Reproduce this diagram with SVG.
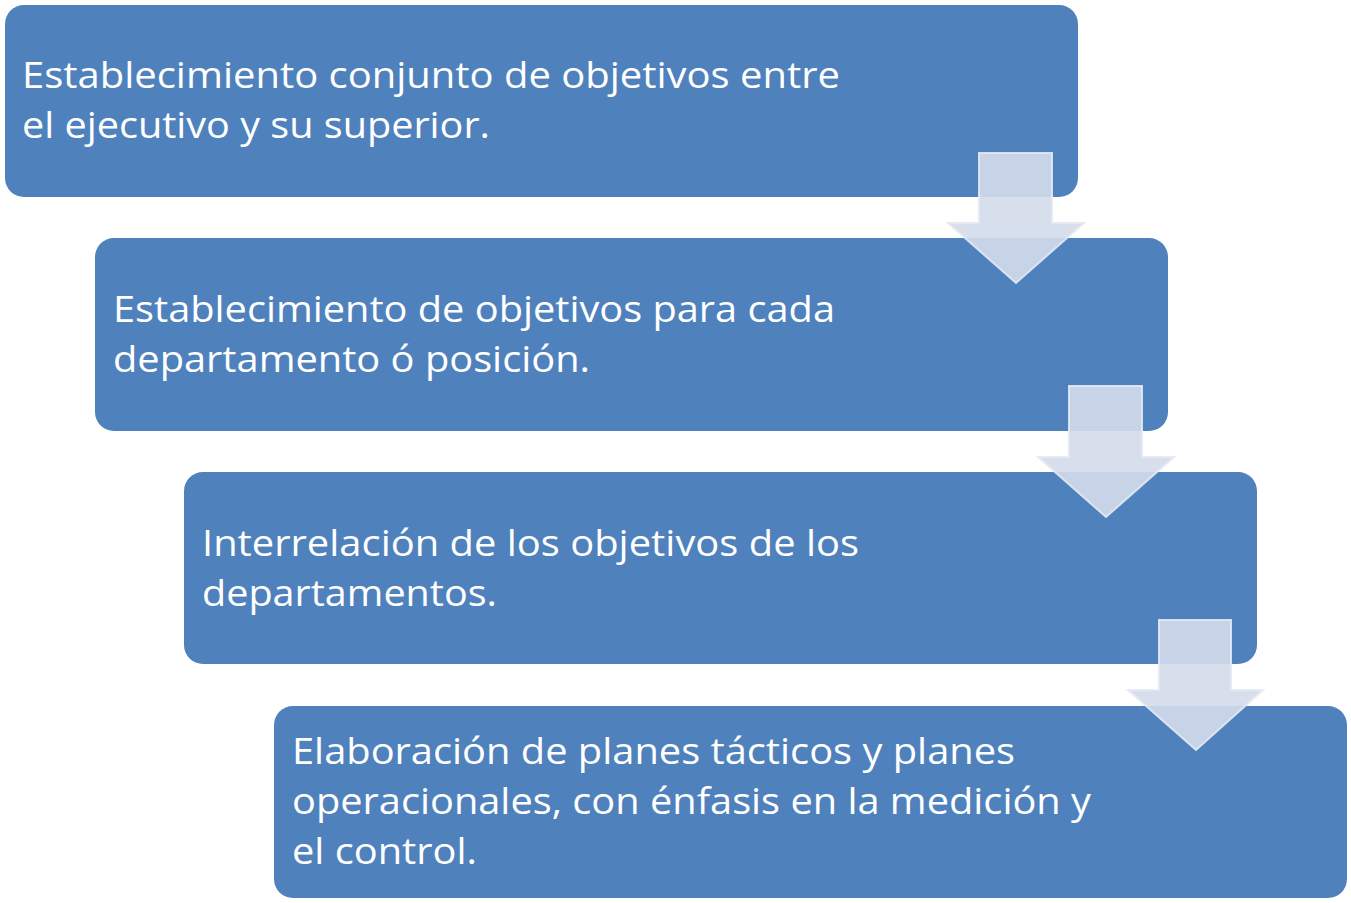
<svg xmlns="http://www.w3.org/2000/svg" width="1351" height="903" viewBox="0 0 1351 903">
<style>
.box{fill:#4F81BD;}
.t{font-family:"Open Sans","Noto Sans","Liberation Sans",sans-serif;font-size:37px;fill:#FFFFFF;}
.arr{fill:#D4DBEA;fill-opacity:0.9;stroke:#E4E9F3;stroke-opacity:0.9;stroke-width:2;}
</style>
<rect width="1351" height="903" fill="#FFFFFF"/>
<g id="node1">
<rect class="box" x="5" y="5" width="1073" height="192" rx="19"/>
<text class="t" x="22" y="88" textLength="818" lengthAdjust="spacingAndGlyphs">Establecimiento conjunto de objetivos entre</text>
<text class="t" x="22" y="138" textLength="468" lengthAdjust="spacingAndGlyphs">el ejecutivo y su superior.</text>
</g>
<g id="node2">
<rect class="box" x="95" y="238" width="1073" height="193" rx="19"/>
<text class="t" x="113" y="322" textLength="722" lengthAdjust="spacingAndGlyphs">Establecimiento de objetivos para cada</text>
<text class="t" x="113" y="372" textLength="477" lengthAdjust="spacingAndGlyphs">departamento ó posición.</text>
</g>
<g id="node3">
<rect class="box" x="184" y="472" width="1073" height="192" rx="19"/>
<text class="t" x="202" y="556" textLength="657" lengthAdjust="spacingAndGlyphs">Interrelación de los objetivos de los</text>
<text class="t" x="202" y="606" textLength="295" lengthAdjust="spacingAndGlyphs">departamentos.</text>
</g>
<g id="node4">
<rect class="box" x="274" y="706" width="1073" height="192" rx="19"/>
<text class="t" x="292" y="764" textLength="723" lengthAdjust="spacingAndGlyphs">Elaboración de planes tácticos y planes</text>
<text class="t" x="292" y="814" textLength="799" lengthAdjust="spacingAndGlyphs">operacionales, con énfasis en la medición y</text>
<text class="t" x="292" y="864" textLength="185" lengthAdjust="spacingAndGlyphs">el control.</text>
</g>
<g id="connectors">
<path class="arr" d="M979,153 H1052 V223 H1084 L1016,283 L948,223 H979 Z"/>
<path class="arr" d="M1069,386 H1142 V457 H1174 L1106,517 L1038,457 H1069 Z"/>
<path class="arr" d="M1159,620 H1231 V690 H1263 L1196,750 L1128,690 H1159 Z"/>
</g>
</svg>
